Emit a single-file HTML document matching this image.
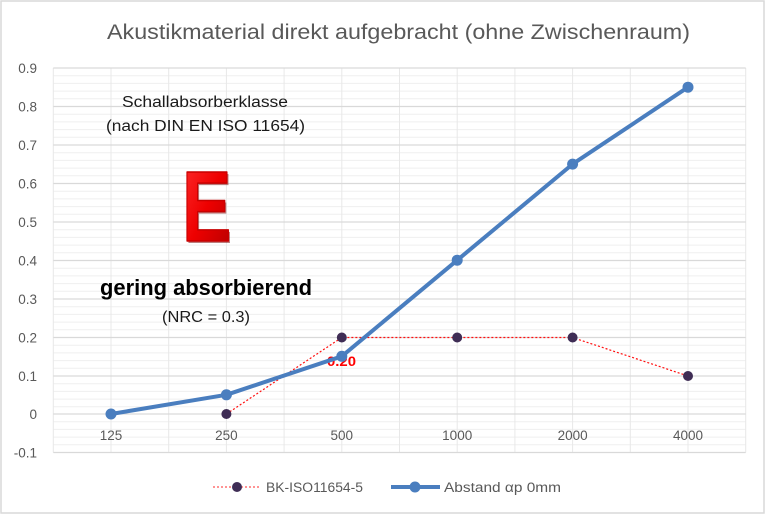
<!DOCTYPE html>
<html>
<head>
<meta charset="utf-8">
<style>
  html,body{margin:0;padding:0;background:#fff;}
  svg{display:block;}
  text{font-family:"Liberation Sans",sans-serif;}
</style>
</head>
<body>
<svg width="768" height="515" viewBox="0 0 768 515" xmlns="http://www.w3.org/2000/svg">
  <defs>
    <linearGradient id="eg" x1="0" y1="0" x2="1" y2="1">
      <stop offset="0" stop-color="#ff3030"/>
      <stop offset="0.5" stop-color="#ee0000"/>
      <stop offset="1" stop-color="#b00000"/>
    </linearGradient>
  </defs>
  <rect x="0" y="0" width="768" height="515" fill="#fff"/>
  <rect x="1" y="1" width="763" height="512" fill="none" stroke="#d9d9d9" stroke-width="1.5"/>

  <!-- title -->
  <text x="107" y="39" font-size="21" fill="#595959" textLength="583" lengthAdjust="spacingAndGlyphs">Akustikmaterial direkt aufgebracht (ohne Zwischenraum)</text>

  <!-- minor horizontal grid -->
  <g stroke="#efefef" stroke-width="1">
    <line x1="53.3" x2="745.7" y1="75.7" y2="75.7"/><line x1="53.3" x2="745.7" y1="83.4" y2="83.4"/><line x1="53.3" x2="745.7" y1="91.1" y2="91.1"/><line x1="53.3" x2="745.7" y1="98.8" y2="98.8"/>
    <line x1="53.3" x2="745.7" y1="114.2" y2="114.2"/><line x1="53.3" x2="745.7" y1="121.9" y2="121.9"/><line x1="53.3" x2="745.7" y1="129.6" y2="129.6"/><line x1="53.3" x2="745.7" y1="137.3" y2="137.3"/>
    <line x1="53.3" x2="745.7" y1="152.7" y2="152.7"/><line x1="53.3" x2="745.7" y1="160.4" y2="160.4"/><line x1="53.3" x2="745.7" y1="168.1" y2="168.1"/><line x1="53.3" x2="745.7" y1="175.8" y2="175.8"/>
    <line x1="53.3" x2="745.7" y1="191.2" y2="191.2"/><line x1="53.3" x2="745.7" y1="198.9" y2="198.9"/><line x1="53.3" x2="745.7" y1="206.6" y2="206.6"/><line x1="53.3" x2="745.7" y1="214.3" y2="214.3"/>
    <line x1="53.3" x2="745.7" y1="229.7" y2="229.7"/><line x1="53.3" x2="745.7" y1="237.4" y2="237.4"/><line x1="53.3" x2="745.7" y1="245.1" y2="245.1"/><line x1="53.3" x2="745.7" y1="252.8" y2="252.8"/>
    <line x1="53.3" x2="745.7" y1="268.2" y2="268.2"/><line x1="53.3" x2="745.7" y1="275.9" y2="275.9"/><line x1="53.3" x2="745.7" y1="283.6" y2="283.6"/><line x1="53.3" x2="745.7" y1="291.3" y2="291.3"/>
    <line x1="53.3" x2="745.7" y1="306.7" y2="306.7"/><line x1="53.3" x2="745.7" y1="314.4" y2="314.4"/><line x1="53.3" x2="745.7" y1="322.1" y2="322.1"/><line x1="53.3" x2="745.7" y1="329.8" y2="329.8"/>
    <line x1="53.3" x2="745.7" y1="345.2" y2="345.2"/><line x1="53.3" x2="745.7" y1="352.9" y2="352.9"/><line x1="53.3" x2="745.7" y1="360.6" y2="360.6"/><line x1="53.3" x2="745.7" y1="368.3" y2="368.3"/>
    <line x1="53.3" x2="745.7" y1="383.7" y2="383.7"/><line x1="53.3" x2="745.7" y1="391.4" y2="391.4"/><line x1="53.3" x2="745.7" y1="399.1" y2="399.1"/><line x1="53.3" x2="745.7" y1="406.8" y2="406.8"/>
    <line x1="53.3" x2="745.7" y1="421.7" y2="421.7"/><line x1="53.3" x2="745.7" y1="429.4" y2="429.4"/><line x1="53.3" x2="745.7" y1="437.1" y2="437.1"/><line x1="53.3" x2="745.7" y1="444.8" y2="444.8"/>
  </g>
  <!-- vertical grid -->
  <g stroke="#e8e8e8" stroke-width="1">
    <line x1="53.3" x2="53.3" y1="68" y2="452.5"/>
    <line x1="111" x2="111" y1="68" y2="452.5"/>
    <line x1="168.7" x2="168.7" y1="68" y2="452.5"/>
    <line x1="226.4" x2="226.4" y1="68" y2="452.5"/>
    <line x1="284.1" x2="284.1" y1="68" y2="452.5"/>
    <line x1="341.8" x2="341.8" y1="68" y2="452.5"/>
    <line x1="399.5" x2="399.5" y1="68" y2="452.5"/>
    <line x1="457.2" x2="457.2" y1="68" y2="452.5"/>
    <line x1="514.9" x2="514.9" y1="68" y2="452.5"/>
    <line x1="572.6" x2="572.6" y1="68" y2="452.5"/>
    <line x1="630.3" x2="630.3" y1="68" y2="452.5"/>
    <line x1="688" x2="688" y1="68" y2="452.5"/>
    <line x1="745.7" x2="745.7" y1="68" y2="452.5"/>
  </g>
  <!-- major horizontal grid -->
  <g stroke="#d9d9d9" stroke-width="1.2">
    <line x1="53.3" x2="745.7" y1="68" y2="68"/>
    <line x1="53.3" x2="745.7" y1="106.5" y2="106.5"/>
    <line x1="53.3" x2="745.7" y1="145" y2="145"/>
    <line x1="53.3" x2="745.7" y1="183.5" y2="183.5"/>
    <line x1="53.3" x2="745.7" y1="222" y2="222"/>
    <line x1="53.3" x2="745.7" y1="260.5" y2="260.5"/>
    <line x1="53.3" x2="745.7" y1="299" y2="299"/>
    <line x1="53.3" x2="745.7" y1="337.5" y2="337.5"/>
    <line x1="53.3" x2="745.7" y1="376" y2="376"/>
    <line x1="53.3" x2="745.7" y1="414" y2="414"/>
    <line x1="53.3" x2="745.7" y1="452.5" y2="452.5"/>
  </g>

  <!-- y labels -->
  <g font-size="13.5" fill="#595959" text-anchor="end">
    <text x="37" y="73">0.9</text>
    <text x="37" y="111.5">0.8</text>
    <text x="37" y="150">0.7</text>
    <text x="37" y="188.5">0.6</text>
    <text x="37" y="227">0.5</text>
    <text x="37" y="265.5">0.4</text>
    <text x="37" y="304">0.3</text>
    <text x="37" y="342.5">0.2</text>
    <text x="37" y="381">0.1</text>
    <text x="37" y="419">0</text>
    <text x="37" y="457.5">-0.1</text>
  </g>
  <!-- x labels -->
  <g font-size="13.5" fill="#595959" text-anchor="middle">
    <text x="111" y="440">125</text>
    <text x="226.4" y="440">250</text>
    <text x="341.8" y="440">500</text>
    <text x="457.2" y="440">1000</text>
    <text x="572.6" y="440">2000</text>
    <text x="688" y="440">4000</text>
  </g>

  <!-- annotations -->
  <g fill="#1a1a1a">
    <text x="122" y="107" font-size="15.5" textLength="166" lengthAdjust="spacingAndGlyphs">Schallabsorberklasse</text>
    <text x="106" y="131" font-size="15.5" textLength="199" lengthAdjust="spacingAndGlyphs">(nach DIN EN ISO 11654)</text>
    <text x="100" y="295" font-size="22" font-weight="bold" fill="#000" textLength="212" lengthAdjust="spacingAndGlyphs">gering absorbierend</text>
    <text x="162" y="322" font-size="15.5" textLength="88" lengthAdjust="spacingAndGlyphs">(NRC = 0.3)</text>
  </g>
  <!-- big E -->
  <g transform="translate(182,241) scale(0.74,1)">
    <text x="2" y="2" font-size="100" font-weight="bold" fill="#7a0000" opacity="0.5">E</text>
    <text x="0" y="0" font-size="100" font-weight="bold" fill="url(#eg)" stroke="#c80000" stroke-width="1.5" stroke-linejoin="round">E</text>
  </g>

  <!-- series BK (red dotted) -->
  <polyline points="226.4,414 341.8,337.5 457.2,337.5 572.6,337.5 688,376" fill="none" stroke="#ff1010" stroke-width="1.2" stroke-dasharray="2,2"/>
  <g fill="#3f2d55">
    <circle cx="226.4" cy="414" r="5"/>
    <circle cx="341.8" cy="337.5" r="5"/>
    <circle cx="457.2" cy="337.5" r="5"/>
    <circle cx="572.6" cy="337.5" r="5"/>
    <circle cx="688" cy="376" r="5"/>
  </g>

  <!-- data label -->
  <text x="327" y="366" font-size="14" font-weight="bold" fill="#ff0000" textLength="29" lengthAdjust="spacingAndGlyphs">0.20</text>

  <!-- series Abstand (blue) -->
  <polyline points="111,414 226.4,394.8 341.8,356.3 457.2,260.2 572.6,164.1 688,87.2" fill="none" stroke="#4a7ebf" stroke-width="4" stroke-linejoin="round"/>
  <g fill="#4a7ebf">
    <circle cx="111" cy="414" r="5.5"/>
    <circle cx="226.4" cy="394.8" r="5.5"/>
    <circle cx="341.8" cy="356.3" r="5.5"/>
    <circle cx="457.2" cy="260.2" r="5.5"/>
    <circle cx="572.6" cy="164.1" r="5.5"/>
    <circle cx="688" cy="87.2" r="5.5"/>
  </g>

  <!-- legend -->
  <line x1="213" x2="260" y1="487" y2="487" stroke="#ff2a2a" stroke-width="1" stroke-dasharray="2,2"/>
  <circle cx="237" cy="487" r="5" fill="#3f2d55"/>
  <text x="266" y="492" font-size="13.5" fill="#595959" textLength="97" lengthAdjust="spacingAndGlyphs">BK-ISO11654-5</text>
  <line x1="391" x2="440" y1="487" y2="487" stroke="#4a7ebf" stroke-width="4"/>
  <circle cx="415" cy="487" r="5.5" fill="#4a7ebf"/>
  <text x="444" y="492" font-size="13.5" fill="#595959" textLength="117" lengthAdjust="spacingAndGlyphs">Abstand  αp 0mm</text>
</svg>
</body>
</html>
